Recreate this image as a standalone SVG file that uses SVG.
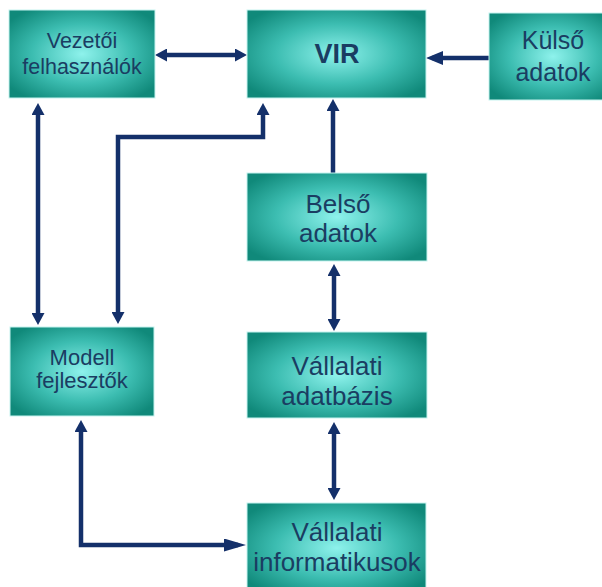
<svg xmlns="http://www.w3.org/2000/svg" width="602" height="587" viewBox="0 0 602 587">
  <style>
    .box { fill: url(#teal); stroke: #c6f3ef; stroke-width: 1; }
    .lbl { font-family: "Liberation Sans", Arial, sans-serif; fill: #1a3d62; text-anchor: middle; }
    .wire { fill: none; stroke: #14306a; stroke-width: 4.5; stroke-linejoin: miter; }
  </style>
  <defs>
    <radialGradient id="teal" cx="50%" cy="50%" r="62%">
      <stop offset="0" stop-color="#8ef2ec"/>
      <stop offset="0.55" stop-color="#3cbdb1"/>
      <stop offset="1" stop-color="#10897a"/>
    </radialGradient>
    <marker id="head" viewBox="0 0 12 13" markerWidth="12" markerHeight="13" refX="6" refY="6.5" markerUnits="userSpaceOnUse" orient="auto-start-reverse">
      <path d="M0,0 L12,6.5 L0,13 z" fill="#14306a"/>
    </marker>
    <marker id="headMid" viewBox="0 0 17 14" markerWidth="17" markerHeight="14" refX="11" refY="7" markerUnits="userSpaceOnUse" orient="auto-start-reverse">
      <path d="M0,0 L17,7 L0,14 z" fill="#14306a"/>
    </marker>
    <marker id="headLong" viewBox="0 0 22 13" markerWidth="22" markerHeight="13" refX="14" refY="6.5" markerUnits="userSpaceOnUse" orient="auto-start-reverse">
      <path d="M0,0 L22,6.5 L0,13 z" fill="#14306a"/>
    </marker>
  </defs>

  <!-- connectors -->
  <g id="connectors">
    <line class="wire" x1="161" y1="55" x2="241" y2="55" marker-start="url(#head)" marker-end="url(#head)"/>
    <line class="wire" x1="489" y1="58" x2="432" y2="58" marker-end="url(#headMid)"/>
    <line class="wire" x1="333" y1="173" x2="333" y2="105" marker-end="url(#head)"/>
    <line class="wire" x1="38" y1="109" x2="38" y2="319" marker-start="url(#head)" marker-end="url(#head)"/>
    <path class="wire" d="M263,109 V137 H118 V318" marker-start="url(#head)" marker-end="url(#head)"/>
    <line class="wire" x1="334" y1="270" x2="334" y2="325" marker-start="url(#head)" marker-end="url(#head)"/>
    <line class="wire" x1="334" y1="428" x2="334" y2="494" marker-start="url(#head)" marker-end="url(#head)"/>
    <path class="wire" d="M81,426 V545 H238" marker-start="url(#head)" marker-end="url(#headLong)"/>
  </g>

  <!-- nodes -->
  <g id="vezetoi">
    <rect class="box" x="9" y="10" width="146" height="88"/>
    <text class="lbl" font-size="21.5" x="82" y="48">Vezetői</text>
    <text class="lbl" font-size="21.5" x="82" y="74">felhasználók</text>
  </g>
  <g id="vir">
    <rect class="box" x="247" y="10" width="179" height="88"/>
    <text class="lbl" font-size="27" font-weight="bold" x="337" y="63">VIR</text>
  </g>
  <g id="kulso">
    <rect class="box" x="489" y="13" width="128" height="87"/>
    <text class="lbl" font-size="25" x="553" y="49">Külső</text>
    <text class="lbl" font-size="25" x="553" y="81">adatok</text>
  </g>
  <g id="belso">
    <rect class="box" x="247" y="173" width="180" height="88"/>
    <text class="lbl" font-size="26" x="338" y="213">Belső</text>
    <text class="lbl" font-size="26" x="338" y="242">adatok</text>
  </g>
  <g id="modell">
    <rect class="box" x="10" y="327" width="144" height="89"/>
    <text class="lbl" font-size="22" x="82" y="365">Modell</text>
    <text class="lbl" font-size="22" x="82" y="388">fejlesztők</text>
  </g>
  <g id="adatbazis">
    <rect class="box" x="247" y="332" width="180" height="86"/>
    <text class="lbl" font-size="26" x="337" y="375">Vállalati</text>
    <text class="lbl" font-size="26" x="337" y="405">adatbázis</text>
  </g>
  <g id="informatikusok">
    <rect class="box" x="247" y="503" width="179" height="90"/>
    <text class="lbl" font-size="26" x="337" y="541">Vállalati</text>
    <text class="lbl" font-size="26" x="337" y="571">informatikusok</text>
  </g>
</svg>
